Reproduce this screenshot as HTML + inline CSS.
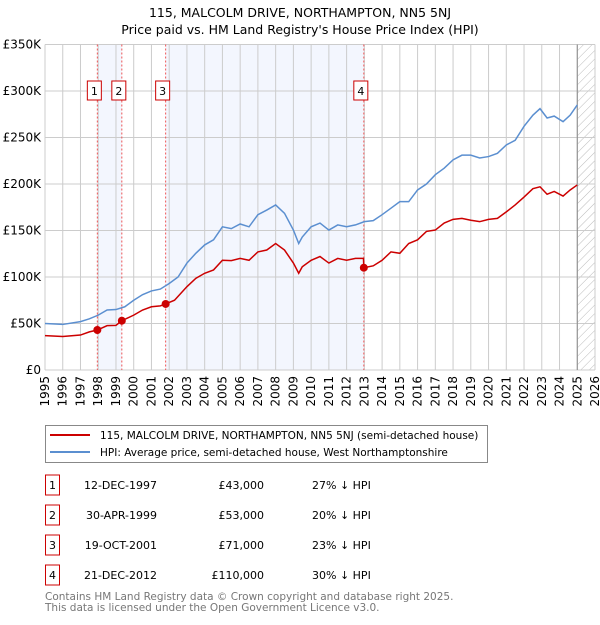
<!DOCTYPE html>
<html><head><meta charset="utf-8"><style>
body{margin:0;background:#fff;font-family:"Liberation Sans","DejaVu Sans",sans-serif;}
svg text{font-family:"DejaVu Sans","Liberation Sans",sans-serif;}
</style></head><body>
<svg id="chart" width="600" height="620" viewBox="0 0 600 620" xmlns="http://www.w3.org/2000/svg">
<defs><pattern id="hatch" patternUnits="userSpaceOnUse" width="6" height="6" patternTransform="rotate(45)"><line x1="0" y1="0" x2="0" y2="6" stroke="#bbb" stroke-width="1"/></pattern></defs>
<text x="300" y="17" text-anchor="middle" font-size="12.5">115, MALCOLM DRIVE, NORTHAMPTON, NN5 5NJ</text>
<text x="300" y="34" text-anchor="middle" font-size="12.5">Price paid vs. HM Land Registry's House Price Index (HPI)</text>
<g id="plot"></g>
<rect x="45.5" y="425.5" width="442" height="37" fill="#fff" stroke="#888"/>
<line x1="50" y1="435" x2="90" y2="435" stroke="#cc0000" stroke-width="2"/>
<text x="100" y="439" font-size="10.5">115, MALCOLM DRIVE, NORTHAMPTON, NN5 5NJ (semi-detached house)</text>
<line x1="50" y1="452" x2="90" y2="452" stroke="#5b8fd0" stroke-width="2"/>
<text x="100" y="456" font-size="10.5">HPI: Average price, semi-detached house, West Northamptonshire</text>
<g id="table" font-size="11"></g>
<text x="45" y="600" font-size="10.5" fill="#777">Contains HM Land Registry data © Crown copyright and database right 2025.</text>
<text x="45" y="611" font-size="10.5" fill="#777">This data is licensed under the Open Government Licence v3.0.</text>
</svg>
<script>
const hpiYears=[1995,1996,1997,1997.5,1998,1998.5,1999,1999.5,2000,2000.5,2001,2001.5,2002,2002.5,2003,2003.5,2004,2004.5,2005,2005.5,2006,2006.5,2007,2007.5,2008,2008.5,2009,2009.3,2009.5,2010,2010.5,2011,2011.5,2012,2012.5,2013,2013.5,2014,2014.5,2015,2015.5,2016,2016.5,2017,2017.5,2018,2018.5,2019,2019.5,2020,2020.5,2021,2021.5,2022,2022.5,2022.9,2023.3,2023.7,2024.2,2024.6,2025];
const hpiValues=[50,49,52,55,59,64.5,65,68,75,81,85,87,93,100,115,125.5,134.5,140,154,152,157,154,167,172,177.5,168.5,150.5,136,143,154,158,150.5,156,154,156,159.5,160.6,167,174,181,181,193.6,200,210,217,226,231,231,228,229.5,233,242,247,262,274,281,271,273,267,274,285];
const priceYears=[1995,1996,1997,1997.5,1997.95,1998.5,1999,1999.33,2000,2000.5,2001,2001.5,2001.8,2002.3,2003,2003.5,2004,2004.5,2005,2005.5,2006,2006.5,2007,2007.5,2008,2008.5,2009,2009.3,2009.5,2010,2010.5,2011,2011.5,2012,2012.5,2012.95,2012.97,2013.5,2014,2014.5,2015,2015.5,2016,2016.5,2017,2017.5,2018,2018.5,2019,2019.5,2020,2020.5,2021,2021.5,2022,2022.5,2022.9,2023.3,2023.7,2024.2,2024.6,2025];
const priceValues=[37,36,37.6,41,43,47.7,48,53,59,64.5,68,69,71,75,89.6,98.6,104,107.6,118,117.6,120,118,127,129,136,129,115,104,111,118,122,115,120,118,120,120,110,112,118,127,125.5,136,140,149,150.5,158,162,163,161,159.5,162,163,170,177.5,186,195,197,189,192,187,193.6,199];
const saleYears=[1997.95,1999.33,2001.8,2012.97];
const salePrices=[43,53,71,110];
const saleDates=["12-DEC-1997","30-APR-1999","19-OCT-2001","21-DEC-2012"];
const saleLabels=["£43,000","£53,000","£71,000","£110,000"];
const saleDiffs=["27% ↓ HPI","20% ↓ HPI","23% ↓ HPI","30% ↓ HPI"];
const yTicks=[0,50,100,150,200,250,300,350];
const yTickLabels=["£0","£50K","£100K","£150K","£200K","£250K","£300K","£350K"];
const xTicks=[1995,1996,1997,1998,1999,2000,2001,2002,2003,2004,2005,2006,2007,2008,2009,2010,2011,2012,2013,2014,2015,2016,2017,2018,2019,2020,2021,2022,2023,2024,2025,2026];

const X0=45,X1=595,Y0=370,Y1=44.5;
const xs=y=>X0+(y-1995)*(X1-X0)/31;
const ys=v=>Y0-v*(Y0-Y1)/350;
const NS="http://www.w3.org/2000/svg";
const plot=document.getElementById('plot');
function mk(t,a,p){const e=document.createElementNS(NS,t);for(const k in a)e.setAttribute(k,a[k]);(p||plot).appendChild(e);return e;}
for(let i=0;i<saleYears.length;i+=2){const r=mk('rect',{x:xs(saleYears[i]),y:Y1,width:xs(saleYears[i+1])-xs(saleYears[i]),height:Y0-Y1,fill:'#f3f6fe'});

}
const h=mk('rect',{x:xs(2025),y:Y1,width:X1-xs(2025),height:Y0-Y1,fill:'url(#hatch)'});


xTicks.forEach(t=>{const l=mk('line',{x1:xs(t),x2:xs(t),y1:Y1,y2:Y0,stroke:'#cccccc'});


const tx=mk('text',{x:0,y:0,'font-size':12,'text-anchor':'end',transform:`translate(${xs(t)+4},${Y0+6}) rotate(-90)`});tx.textContent=t;

});
yTicks.forEach((t,i)=>{const l=mk('line',{x1:X0,x2:X1,y1:ys(t),y2:ys(t),stroke:'#cccccc'});


const tx=mk('text',{x:X0-4,y:ys(t)+4,'font-size':12,'text-anchor':'end'});tx.textContent=yTickLabels[i];

});
const vl=mk('line',{x1:xs(2025),x2:xs(2025),y1:Y1,y2:Y0,stroke:'#888'});


saleYears.forEach((s,i)=>{const l=mk('line',{x1:xs(s),x2:xs(s),y1:Y1,y2:Y0,stroke:'#ee5555','stroke-dasharray':'2,2'});


const cx=xs(s)-3;
const b=mk('rect',{x:cx-7,y:81,width:14,height:19,fill:'#fff',stroke:'#cc0000'});


const t=mk('text',{x:cx,y:95,'font-size':11,'text-anchor':'middle'});t.textContent=i+1;

});
const hp=mk('polyline',{points:hpiYears.map((y,i)=>xs(y)+','+ys(hpiValues[i])).join(' '),fill:'none',stroke:'#5b8fd0','stroke-width':1.5});


const pp=mk('polyline',{points:priceYears.map((y,i)=>xs(y)+','+ys(priceValues[i])).join(' '),fill:'none',stroke:'#cc0000','stroke-width':1.5});


saleYears.forEach((s,i)=>{const c=mk('circle',{cx:xs(s),cy:ys(salePrices[i]),r:4,fill:'#cc0000'});

});
const tb=document.getElementById('table');
saleDates.forEach((d,i)=>{const y=483+i*30;
const b=mk('rect',{x:45.5,y:y-8,width:14,height:20,fill:'#fff',stroke:'#cc0000'},tb);


const n=mk('text',{x:52.5,y:y+6,'text-anchor':'middle'},tb);n.textContent=i+1;


const a=mk('text',{x:157,y:y+6,'text-anchor':'end'},tb);a.textContent=d;


const p=mk('text',{x:264,y:y+6,'text-anchor':'end'},tb);p.textContent=saleLabels[i];


const q=mk('text',{x:312,y:y+6},tb);q.textContent=saleDiffs[i];

});
</script>
</body></html>
